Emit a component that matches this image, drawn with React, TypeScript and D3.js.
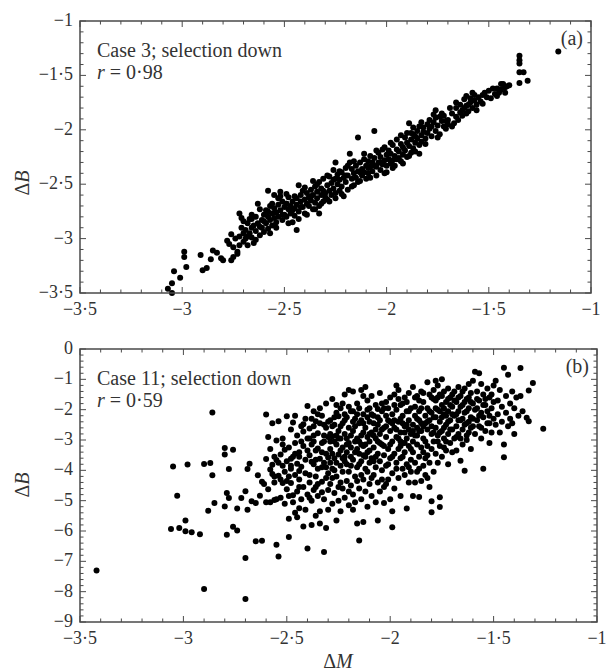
import React from 'react';
import * as d3 from 'd3';

// shared x axis (ΔM) and the two y axes (ΔB)
const DM_TICKS = [-3.5, -3, -2.5, -2, -1.5, -1];
const CASE3_B_TICKS = [-3.5, -3, -2.5, -2, -1.5, -1];
const CASE11_B_TICKS = [-9, -8, -7, -6, -5, -4, -3, -2, -1, 0];

// Case 3; selection down  (ΔM, ΔB)
const case3Points: [number, number][] = [
  [-3.07,-3.46],[-3.05,-3.41],[-3.05,-3.5],[-3.04,-3.30],[-3.01,-3.36],[-2.99,-3.12],[-2.99,-3.17],[-2.98,-3.26],
  [-2.91,-3.15],[-2.90,-3.29],[-2.88,-3.27],[-2.86,-3.19],[-2.85,-3.11],[-2.83,-3.13],[-2.80,-3.20],[-2.81,-3.18],
  [-2.78,-3.02],[-2.76,-3.20],[-2.75,-3.17],[-2.76,-2.96],[-2.77,-3.05],[-2.75,-3.08],[-2.74,-3.00],[-2.73,-3.12],
  [-2.72,-2.98],[-2.72,-3.06],[-2.71,-2.90],[-2.71,-2.81],[-2.70,-3.03],[-2.70,-2.95],[-2.73,-3.14],[-2.72,-2.77],
  [-2.69,-2.92],[-2.69,-3.00],[-2.68,-2.86],[-2.68,-3.06],[-2.67,-2.95],[-2.67,-2.82],[-2.66,-2.90],[-2.66,-2.99],
  [-2.65,-2.88],[-2.65,-3.04],[-2.64,-2.93],[-2.64,-2.80],[-2.63,-2.68],[-2.63,-2.86],[-2.62,-2.73],[-2.62,-2.97],
  [-2.61,-2.90],[-2.61,-2.83],[-2.60,-2.78],[-2.60,-2.94],[-2.66,-2.82],[-2.70,-2.84],
  [-2.59,-2.86],[-2.59,-2.74],[-2.58,-2.80],[-2.58,-2.91],[-2.57,-2.83],[-2.57,-2.70],[-2.56,-2.77],[-2.56,-2.88],
  [-2.55,-2.81],[-2.55,-2.72],[-2.54,-2.85],[-2.54,-2.76],[-2.53,-2.69],[-2.53,-2.80],[-2.52,-2.57],[-2.52,-2.74],
  [-2.51,-2.83],[-2.51,-2.66],[-2.50,-2.78],[-2.50,-2.71],[-2.58,-2.56],[-2.55,-2.60],[-2.52,-2.61],
  [-2.49,-2.68],[-2.49,-2.80],[-2.48,-2.73],[-2.48,-2.62],[-2.47,-2.77],[-2.47,-2.70],[-2.46,-2.66],[-2.46,-2.85],
  [-2.45,-2.72],[-2.45,-2.79],[-2.44,-2.63],[-2.44,-2.69],[-2.43,-2.51],[-2.43,-2.75],[-2.42,-2.66],[-2.42,-2.60],
  [-2.41,-2.71],[-2.41,-2.56],[-2.40,-2.64],[-2.40,-2.77],[-2.44,-2.92],[-2.39,-2.68],[-2.49,-2.68],
  [-2.39,-2.58],[-2.38,-2.62],[-2.38,-2.70],[-2.37,-2.55],[-2.37,-2.65],[-2.36,-2.60],[-2.36,-2.73],[-2.35,-2.52],
  [-2.35,-2.67],[-2.34,-2.57],[-2.34,-2.63],[-2.33,-2.48],[-2.33,-2.70],[-2.32,-2.60],[-2.32,-2.54],[-2.31,-2.66],
  [-2.31,-2.45],[-2.30,-2.58],[-2.30,-2.62],[-2.36,-2.47],[-2.33,-2.77],
  [-2.29,-2.51],[-2.29,-2.64],[-2.28,-2.43],[-2.28,-2.56],[-2.27,-2.60],[-2.27,-2.49],[-2.26,-2.54],[-2.26,-2.37],
  [-2.25,-2.58],[-2.25,-2.45],[-2.24,-2.50],[-2.24,-2.41],[-2.23,-2.56],[-2.23,-2.46],[-2.22,-2.52],[-2.22,-2.39],
  [-2.21,-2.44],[-2.21,-2.61],[-2.20,-2.48],[-2.20,-2.35],[-2.25,-2.30],[-2.18,-2.22],[-2.19,-2.42],
  [-2.17,-2.45],[-2.17,-2.36],[-2.16,-2.40],[-2.16,-2.51],[-2.15,-2.33],[-2.15,-2.44],[-2.14,-2.38],[-2.14,-2.07],
  [-2.13,-2.47],[-2.13,-2.30],[-2.12,-2.36],[-2.12,-2.42],[-2.11,-2.27],[-2.11,-2.39],[-2.10,-2.33],[-2.10,-2.45],
  [-2.18,-2.30],[-2.19,-2.55],
  [-2.09,-2.29],[-2.09,-2.40],[-2.08,-2.34],[-2.08,-2.24],[-2.07,-2.38],[-2.07,-2.30],[-2.06,-2.01],[-2.06,-2.26],
  [-2.05,-2.34],[-2.05,-2.42],[-2.04,-2.21],[-2.04,-2.30],[-2.03,-2.37],[-2.03,-2.25],[-2.02,-2.32],[-2.02,-2.18],
  [-2.01,-2.28],[-2.01,-2.40],[-2.00,-2.23],[-2.00,-2.33],
  [-1.99,-2.27],[-1.99,-2.19],[-1.98,-2.31],[-1.98,-2.22],[-1.97,-2.14],[-1.97,-2.28],[-1.96,-2.24],[-1.96,-2.33],
  [-1.95,-2.18],[-1.95,-2.09],[-1.94,-2.26],[-1.94,-2.20],[-1.93,-2.13],[-1.93,-2.29],[-1.92,-2.16],[-1.92,-2.23],
  [-1.91,-2.07],[-1.91,-2.19],[-1.90,-2.12],[-1.90,-2.25],[-1.89,-1.94],[-1.88,-2.03],
  [-1.89,-2.15],[-1.88,-2.21],[-1.88,-2.09],[-1.87,-2.17],[-1.87,-2.04],[-1.86,-2.12],[-1.86,-2.20],[-1.85,-2.01],
  [-1.85,-2.08],[-1.84,-2.14],[-1.84,-1.97],[-1.83,-2.05],[-1.83,-2.11],[-1.82,-1.98],[-1.82,-2.02],[-1.81,-2.08],
  [-1.80,-1.95],[-1.80,-2.03],
  [-1.79,-1.99],[-1.78,-2.06],[-1.77,-1.86],[-1.77,-1.93],[-1.76,-2.01],[-1.76,-1.89],[-1.75,-1.96],[-1.74,-1.88],
  [-1.74,-2.04],[-1.73,-1.92],[-1.72,-1.97],[-1.72,-1.87],[-1.71,-1.99],[-1.70,-1.91],[-1.70,-1.95],
  [-1.68,-1.85],[-1.67,-1.94],[-1.66,-1.80],[-1.66,-1.88],[-1.65,-1.91],[-1.64,-1.77],[-1.64,-1.84],[-1.63,-1.87],
  [-1.62,-1.72],[-1.62,-1.80],[-1.61,-1.85],[-1.61,-1.69],[-1.60,-1.77],
  [-1.60,-1.83],[-1.59,-1.75],[-1.59,-1.71],[-1.58,-1.80],[-1.57,-1.73],[-1.57,-1.68],[-1.56,-1.77],[-1.55,-1.70],
  [-1.54,-1.74],[-1.53,-1.68],[-1.52,-1.66],
  [-1.50,-1.64],[-1.49,-1.71],[-1.47,-1.67],[-1.46,-1.62],[-1.45,-1.66],[-1.44,-1.63],[-1.43,-1.58],[-1.42,-1.61],
  [-1.42,-1.66],[-1.41,-1.60],[-1.40,-1.59],[-1.35,-1.32],[-1.35,-1.36],[-1.35,-1.39],[-1.35,-1.47],[-1.33,-1.47],
  [-1.35,-1.57],[-1.31,-1.55],[-1.16,-1.28],
  // second pass through the dense part of the band
  [-2.68,-2.98],[-2.66,-2.78],[-2.64,-3.01],[-2.62,-2.89],[-2.60,-2.84],[-2.58,-2.75],[-2.57,-2.95],[-2.56,-2.68],
  [-2.54,-2.90],[-2.53,-2.63],[-2.51,-2.78],[-2.49,-2.59],[-2.48,-2.86],[-2.46,-2.74],[-2.45,-2.61],[-2.43,-2.82],
  [-2.42,-2.71],[-2.40,-2.53],[-2.39,-2.78],[-2.37,-2.61],[-2.35,-2.73],[-2.34,-2.50],[-2.32,-2.68],[-2.31,-2.56],
  [-2.29,-2.42],[-2.28,-2.66],[-2.26,-2.46],[-2.25,-2.63],[-2.23,-2.38],[-2.22,-2.59],[-2.20,-2.42],[-2.19,-2.33],
  [-2.17,-2.52],[-2.16,-2.29],[-2.14,-2.48],[-2.13,-2.39],[-2.11,-2.22],[-2.09,-2.35],[-2.08,-2.44],[-2.06,-2.33],
  [-2.05,-2.19],[-2.03,-2.30],[-2.01,-2.16],[-2.00,-2.39],[-1.98,-2.12],[-1.97,-2.35],[-1.95,-2.27],[-1.93,-2.05],
  [-1.92,-2.31],[-1.90,-2.03],[-1.89,-2.24],[-1.87,-1.98],[-1.86,-2.06],[-1.84,-2.22],[-1.83,-1.93],[-1.81,-2.13],
  [-1.79,-1.91],[-1.78,-1.97],[-1.76,-1.82],[-1.75,-2.07],[-1.73,-1.85],[-1.71,-1.92],[-1.69,-1.80],[-1.68,-1.97],
  [-1.66,-1.75],[-1.63,-1.82],[-1.61,-1.78],[-1.58,-1.66],[-1.56,-1.82],[-1.53,-1.76],[-1.51,-1.70],[-1.48,-1.62],
  [-1.46,-1.69],[-1.44,-1.58],
];

// Case 11; selection down  (ΔM, ΔB)
const case11Points: [number, number][] = [
  // sparse left side
  [-3.42,-7.30],[-2.90,-7.91],[-2.70,-8.24],[-2.70,-6.89],[-2.54,-6.84],[-2.55,-6.45],[-2.65,-6.34],[-2.62,-6.32],
  [-2.40,-6.58],[-2.32,-6.69],[-2.15,-6.31],[-1.99,-5.88],[-2.06,-5.65],[-2.13,-5.70],
  [-3.06,-5.93],[-3.02,-5.90],[-2.99,-5.65],[-2.99,-6.01],[-2.96,-6.04],[-2.92,-6.11],[-2.79,-6.12],[-2.76,-5.86],
  [-2.74,-5.98],[-3.03,-4.84],[-3.05,-3.87],[-2.98,-3.81],[-2.90,-3.79],[-2.87,-3.76],[-2.86,-4.16],[-2.86,-2.09],
  [-2.80,-3.26],[-2.80,-3.48],[-2.76,-3.32],[-2.78,-3.96],[-2.88,-5.33],[-2.85,-5.08],[-2.80,-5.19],[-2.79,-4.75],
  [-2.78,-4.91],[-2.74,-5.26],[-2.72,-4.91],[-2.70,-4.69],[-2.69,-5.30],[-2.69,-3.96],[-2.68,-3.78],[-2.67,-5.02],
  [-2.65,-5.08],[-2.64,-4.16],[-2.63,-4.84],[-2.60,-3.63],[-2.60,-2.16],[-2.60,-5.05],[-2.62,-4.38],[-2.61,-4.45],
  // -2.6 .. -2.5
  [-2.59,-2.90],[-2.58,-5.05],[-2.58,-3.97],[-2.57,-4.12],[-2.57,-2.45],[-2.56,-3.55],[-2.56,-4.40],[-2.55,-3.02],
  [-2.55,-3.66],[-2.55,-4.95],[-2.54,-2.38],[-2.54,-4.18],[-2.53,-3.48],[-2.53,-4.90],[-2.52,-3.85],[-2.52,-4.42],
  [-2.52,-2.95],[-2.51,-4.05],[-2.51,-5.10],[-2.51,-3.32],[-2.50,-4.62],[-2.50,-2.22],[-2.50,-3.70],[-2.59,-4.62],
  [-2.57,-3.82],[-2.56,-4.98],[-2.53,-4.30],[-2.49,-6.20],
  [-2.58,-3.30],[-2.56,-4.20],[-2.54,-3.75],[-2.52,-3.15],[-2.50,-4.35],
  // -2.5 .. -2.4
  [-2.49,-3.25],[-2.49,-4.85],[-2.49,-5.60],[-2.48,-2.65],[-2.48,-3.95],[-2.48,-4.42],[-2.47,-3.55],[-2.47,-2.42],
  [-2.47,-5.05],[-2.46,-4.15],[-2.46,-3.10],[-2.46,-5.40],[-2.45,-3.78],[-2.45,-4.70],[-2.45,-2.85],[-2.44,-4.30],
  [-2.44,-3.40],[-2.44,-5.25],[-2.43,-2.55],[-2.43,-3.88],[-2.43,-4.95],[-2.42,-3.20],[-2.42,-4.55],[-2.42,-5.85],
  [-2.41,-2.30],[-2.41,-3.65],[-2.41,-4.10],[-2.40,-2.95],[-2.40,-4.80],[-2.40,-1.88],[-2.47,-4.82],[-2.45,-5.55],
  [-2.43,-3.05],[-2.42,-2.72],[-2.44,-4.02],[-2.48,-3.62],[-2.41,-5.30],[-2.46,-2.20],[-2.49,-4.20],
  [-2.48,-3.85],[-2.46,-3.45],[-2.44,-4.55],[-2.44,-3.55],[-2.42,-2.48],
  // -2.4 .. -2.3
  [-2.39,-3.50],[-2.39,-2.62],[-2.39,-4.40],[-2.38,-3.15],[-2.38,-5.00],[-2.38,-2.30],[-2.37,-3.80],[-2.37,-4.65],
  [-2.37,-2.05],[-2.36,-3.35],[-2.36,-4.20],[-2.36,-5.50],[-2.35,-2.78],[-2.35,-3.95],[-2.35,-4.85],[-2.34,-2.45],
  [-2.34,-3.62],[-2.34,-5.75],[-2.33,-3.10],[-2.33,-4.38],[-2.33,-2.20],[-2.32,-3.75],[-2.32,-4.95],[-2.31,-2.60],
  [-2.31,-3.45],[-2.31,-5.90],[-2.30,-4.10],[-2.30,-2.90],[-2.30,-5.30],[-2.39,-4.90],[-2.38,-3.72],[-2.37,-2.55],
  [-2.36,-4.55],[-2.35,-3.28],[-2.34,-1.95],[-2.33,-4.72],[-2.32,-2.85],[-2.31,-4.25],[-2.30,-3.58],[-2.36,-2.38],
  [-2.34,-5.35],[-2.32,-3.05],[-2.38,-5.80],[-2.31,-1.80],[-2.35,-4.45],[-2.33,-3.90],[-2.37,-3.05],[-2.30,-4.65],
  [-2.39,-2.95],[-2.40,-3.35],[-2.39,-4.15],[-2.37,-2.85],[-2.36,-3.65],[-2.35,-2.15],[-2.33,-3.40],[-2.32,-2.50],
  [-2.31,-3.90],[-2.30,-2.40],
  // -2.3 .. -2.2
  [-2.29,-2.35],[-2.29,-3.30],[-2.29,-4.45],[-2.28,-1.65],[-2.28,-2.88],[-2.28,-3.95],[-2.28,-5.10],[-2.27,-2.50],
  [-2.27,-3.60],[-2.27,-4.75],[-2.26,-2.10],[-2.26,-3.15],[-2.26,-4.20],[-2.26,-5.65],[-2.25,-2.70],[-2.25,-3.48],
  [-2.25,-4.55],[-2.24,-1.95],[-2.24,-2.95],[-2.24,-3.85],[-2.24,-5.35],[-2.23,-2.45],[-2.23,-3.25],[-2.23,-4.05],
  [-2.22,-1.50],[-2.22,-2.80],[-2.22,-3.70],[-2.22,-4.90],[-2.21,-2.25],[-2.21,-3.40],[-2.21,-4.35],[-2.20,-1.35],
  [-2.20,-2.60],[-2.20,-3.10],[-2.20,-5.15],[-2.29,-2.80],[-2.27,-4.00],[-2.25,-2.22],[-2.23,-4.60],[-2.21,-2.95],
  [-2.29,-3.75],[-2.26,-2.85],[-2.24,-4.40],[-2.22,-3.55],[-2.20,-4.05],[-2.28,-2.55],[-2.25,-5.00],[-2.23,-1.80],
  [-2.21,-3.80],[-2.27,-3.05],[-2.26,-1.85],[-2.24,-3.35],[-2.22,-2.15],[-2.20,-4.70],[-2.28,-4.25],
  [-2.29,-3.05],[-2.28,-3.45],[-2.27,-2.25],[-2.26,-3.75],[-2.25,-2.95],[-2.24,-2.55],[-2.23,-3.60],[-2.22,-2.35],
  [-2.21,-3.15],[-2.20,-1.90],
  // -2.2 .. -2.1
  [-2.19,-2.05],[-2.19,-3.25],[-2.19,-4.50],[-2.18,-1.40],[-2.18,-2.70],[-2.18,-3.65],[-2.18,-5.30],[-2.17,-2.30],
  [-2.17,-3.05],[-2.17,-4.20],[-2.16,-1.80],[-2.16,-2.95],[-2.16,-3.90],[-2.16,-5.75],[-2.15,-2.45],[-2.15,-3.45],
  [-2.15,-4.60],[-2.14,-1.35],[-2.14,-2.85],[-2.14,-3.70],[-2.14,-4.95],[-2.13,-2.15],[-2.13,-3.20],[-2.13,-4.30],
  [-2.12,-1.25],[-2.12,-2.60],[-2.12,-3.55],[-2.11,-1.70],[-2.11,-2.90],[-2.11,-4.05],[-2.11,-5.20],[-2.10,-2.40],
  [-2.10,-3.35],[-2.10,-4.45],[-2.19,-3.85],[-2.17,-2.55],[-2.16,-4.35],[-2.15,-1.95],[-2.14,-3.15],[-2.13,-2.75],
  [-2.12,-4.70],[-2.11,-3.40],[-2.10,-1.95],[-2.18,-4.80],[-2.16,-3.30],[-2.14,-2.35],[-2.12,-3.95],[-2.10,-2.80],
  [-2.19,-2.85],[-2.17,-5.05],[-2.15,-3.80],[-2.13,-1.55],[-2.11,-2.25],[-2.18,-2.05],[-2.13,-3.50],[-2.10,-3.75],
  [-2.19,-3.55],[-2.18,-2.40],[-2.17,-3.40],[-2.16,-2.15],[-2.15,-3.05],[-2.14,-4.15],[-2.13,-2.45],[-2.12,-3.15],
  [-2.11,-2.00],[-2.10,-3.05],
  // -2.1 .. -2.0
  [-2.09,-1.55],[-2.09,-2.75],[-2.09,-3.60],[-2.09,-4.85],[-2.08,-2.20],[-2.08,-3.25],[-2.08,-4.15],[-2.07,-1.85],
  [-2.07,-2.95],[-2.07,-3.90],[-2.07,-5.05],[-2.06,-2.50],[-2.06,-3.45],[-2.06,-4.40],[-2.05,-1.45],[-2.05,-2.80],
  [-2.05,-3.70],[-2.05,-4.70],[-2.04,-2.05],[-2.04,-3.15],[-2.04,-4.00],[-2.03,-2.60],[-2.03,-3.50],[-2.03,-4.55],
  [-2.03,-5.08],[-2.02,-1.75],[-2.02,-2.90],[-2.02,-3.85],[-2.01,-2.35],[-2.01,-3.30],[-2.01,-4.30],[-2.00,-1.60],
  [-2.00,-2.70],[-2.00,-3.60],[-2.00,-4.95],[-2.08,-2.45],[-2.06,-3.05],[-2.04,-4.30],[-2.02,-2.20],[-2.00,-3.15],
  [-2.09,-4.25],[-2.07,-3.55],[-2.05,-2.35],[-2.03,-1.95],[-2.01,-3.80],[-1.99,-5.35],[-2.08,-2.85],[-2.04,-2.65],
  [-2.02,-4.45],[-2.06,-1.98],
  [-2.09,-2.15],[-2.08,-3.70],[-2.07,-2.65],[-2.06,-2.25],[-2.05,-3.10],[-2.04,-1.80],[-2.03,-3.20],[-2.02,-2.55],
  [-2.01,-1.95],[-2.00,-2.40],
  // -2.0 .. -1.9
  [-1.99,-2.15],[-1.99,-3.05],[-1.99,-4.10],[-1.98,-1.50],[-1.98,-2.60],[-1.98,-3.45],[-1.98,-4.60],[-1.97,-2.00],
  [-1.97,-2.90],[-1.97,-3.75],[-1.96,-1.35],[-1.96,-2.40],[-1.96,-3.30],[-1.96,-4.25],[-1.95,-1.85],[-1.95,-2.75],
  [-1.95,-3.60],[-1.95,-4.85],[-1.94,-2.20],[-1.94,-3.10],[-1.94,-3.95],[-1.93,-1.60],[-1.93,-2.55],[-1.93,-3.40],
  [-1.92,-2.05],[-1.92,-2.95],[-1.92,-3.80],[-1.92,-5.26],[-1.91,-1.45],[-1.91,-2.35],[-1.91,-3.20],[-1.91,-4.40],
  [-1.90,-1.95],[-1.90,-2.80],[-1.90,-3.65],[-1.99,-2.45],[-1.97,-3.95],[-1.95,-2.30],[-1.93,-4.15],[-1.91,-2.65],
  [-1.98,-1.85],[-1.96,-2.95],[-1.94,-3.55],[-1.92,-1.75],[-1.90,-4.05],[-1.97,-1.20],[-1.95,-3.20],[-1.93,-2.75],
  [-1.91,-3.90],[-1.94,-2.45],
  [-1.99,-3.55],[-1.98,-2.35],[-1.97,-2.65],[-1.96,-1.65],[-1.95,-3.05],[-1.94,-1.80],[-1.93,-3.10],[-1.92,-2.50],
  [-1.91,-2.05],[-1.90,-3.30],
  // -1.9 .. -1.8
  [-1.89,-1.25],[-1.89,-2.50],[-1.89,-3.40],[-1.89,-4.85],[-1.88,-1.90],[-1.88,-2.85],[-1.88,-3.75],[-1.87,-1.55],
  [-1.87,-2.30],[-1.87,-3.15],[-1.87,-4.05],[-1.86,-2.05],[-1.86,-2.70],[-1.86,-3.55],[-1.86,-4.88],[-1.85,-1.40],
  [-1.85,-2.45],[-1.85,-3.25],[-1.85,-4.35],[-1.84,-1.75],[-1.84,-2.95],[-1.84,-3.85],[-1.83,-2.20],[-1.83,-3.05],
  [-1.83,-4.15],[-1.82,-1.10],[-1.82,-1.95],[-1.82,-2.65],[-1.82,-3.50],[-1.81,-2.35],[-1.81,-3.75],[-1.81,-4.55],
  [-1.80,-5.38],[-1.80,-5.02],[-1.80,-1.60],[-1.80,-2.80],[-1.80,-3.30],[-1.88,-2.20],[-1.86,-1.70],[-1.84,-2.55],
  [-1.82,-4.25],[-1.89,-3.05],[-1.87,-2.60],[-1.85,-1.95],[-1.83,-3.60],[-1.81,-1.50],[-1.88,-4.40],[-1.84,-3.40],
  [-1.82,-2.40],[-1.86,-3.95],[-1.80,-2.10],
  [-1.89,-2.70],[-1.88,-1.60],[-1.87,-2.85],[-1.86,-2.35],[-1.85,-2.70],[-1.84,-1.45],[-1.83,-2.45],[-1.82,-3.20],
  [-1.81,-2.05],[-1.80,-2.55],
  // -1.8 .. -1.7
  [-1.79,-1.35],[-1.79,-2.25],[-1.79,-3.05],[-1.79,-4.05],[-1.78,-1.70],[-1.78,-2.60],[-1.78,-3.45],[-1.77,-1.20],
  [-1.77,-2.00],[-1.77,-2.85],[-1.77,-3.75],[-1.76,-1.50],[-1.76,-2.40],[-1.76,-3.20],[-1.76,-5.21],[-1.76,-4.89],
  [-1.75,-1.00],[-1.75,-1.85],[-1.75,-2.70],[-1.75,-3.55],[-1.74,-1.40],[-1.74,-2.15],[-1.74,-2.95],[-1.73,-1.75],
  [-1.73,-2.50],[-1.73,-3.35],[-1.72,-1.30],[-1.72,-2.05],[-1.72,-2.80],[-1.72,-3.80],[-1.71,-1.60],[-1.71,-2.35],
  [-1.71,-3.10],[-1.70,-1.90],[-1.70,-2.65],[-1.70,-3.40],[-1.78,-1.95],[-1.76,-2.75],[-1.74,-1.95],[-1.72,-2.40],
  [-1.70,-1.50],[-1.79,-2.75],[-1.77,-1.60],[-1.75,-2.25],[-1.73,-3.05],[-1.71,-1.85],[-1.78,-1.05],[-1.74,-2.60],
  [-1.79,-1.65],[-1.78,-2.25],[-1.77,-3.05],[-1.76,-2.05],[-1.75,-1.55],[-1.74,-3.25],[-1.73,-2.20],[-1.72,-1.65],
  [-1.71,-2.65],[-1.70,-2.15],
  // -1.7 .. -1.6
  [-1.69,-1.40],[-1.69,-2.20],[-1.69,-2.95],[-1.68,-1.75],[-1.68,-2.55],[-1.68,-3.35],[-1.67,-1.25],[-1.67,-2.05],
  [-1.67,-2.80],[-1.66,-1.55],[-1.66,-2.35],[-1.66,-3.68],[-1.65,-1.85],[-1.65,-2.65],[-1.65,-3.15],[-1.64,-1.30],
  [-1.64,-2.10],[-1.64,-4.01],[-1.63,-1.65],[-1.63,-2.45],[-1.63,-3.00],[-1.62,-1.15],[-1.62,-1.95],[-1.62,-2.75],
  [-1.61,-1.45],[-1.61,-2.25],[-1.61,-3.30],[-1.60,-1.80],[-1.60,-2.55],[-1.68,-2.15],[-1.66,-2.95],[-1.64,-1.75],
  [-1.62,-2.40],[-1.60,-1.05],[-1.67,-1.60],[-1.63,-2.85],[-1.65,-2.30],[-1.61,-1.75],
  [-1.69,-1.70],[-1.68,-2.90],[-1.67,-2.35],[-1.66,-1.90],[-1.65,-1.40],[-1.64,-2.50],[-1.63,-2.05],[-1.62,-1.60],
  [-1.61,-2.60],[-1.60,-2.30],
  // -1.6 .. -1.5
  [-1.59,-0.75],[-1.59,-2.00],[-1.59,-2.80],[-1.58,-1.40],[-1.58,-2.35],[-1.57,-0.80],[-1.57,-1.70],[-1.57,-2.55],
  [-1.56,-1.15],[-1.56,-2.10],[-1.56,-2.95],[-1.55,-1.50],[-1.55,-2.25],[-1.55,-3.95],[-1.54,-1.85],[-1.54,-2.70],
  [-1.53,-1.30],[-1.53,-2.05],[-1.52,-1.60],[-1.52,-2.45],[-1.52,-3.10],[-1.51,-1.95],[-1.51,-2.75],[-1.50,-1.20],
  [-1.50,-2.30],[-1.58,-1.95],[-1.56,-2.60],[-1.54,-1.65],[-1.52,-2.20],[-1.50,-1.75],
  [-1.58,-1.65],[-1.57,-2.20],[-1.55,-1.85],[-1.53,-2.45],[-1.51,-1.50],
  // -1.5 .. -1.25
  [-1.49,-1.05],[-1.49,-2.50],[-1.48,-1.70],[-1.48,-2.15],[-1.47,-1.35],[-1.47,-2.75],[-1.46,-1.90],[-1.46,-2.40],
  [-1.45,-0.62],[-1.45,-3.15],[-1.45,-3.57],[-1.44,-1.55],[-1.44,-2.10],[-1.43,-0.85],[-1.43,-2.55],[-1.42,-1.80],
  [-1.42,-2.30],[-1.41,-1.40],[-1.41,-2.45],[-1.40,-1.95],[-1.40,-2.80],[-1.39,-1.60],[-1.38,-2.20],[-1.37,-0.63],
  [-1.37,-1.55],[-1.36,-2.05],[-1.34,-2.27],[-1.33,-1.37],[-1.33,-2.38],[-1.31,-1.12],[-1.26,-2.63],
];

const FONT = 'Liberation Serif';
const TEXT = '#333';
const AXIS = '#4a4a4a';

const fmt = (v: number) => (v < 0 ? '\u2212' : '') + String(Math.abs(v)).replace('.', '\u00b7');

type Box = { l: number; r: number; t: number; b: number };

function Panel({ points, yTicks, yMinor, box, caseText, rText, tag, yLabelY }: {
  points: [number, number][]; yTicks: number[]; yMinor: number; box: Box;
  caseText: string; rText: string; tag: string; yLabelY: number;
}) {
  const x = d3.scaleLinear().domain(d3.extent(DM_TICKS) as [number, number]).range([box.l, box.r]);
  const y = d3.scaleLinear().domain(d3.extent(yTicks) as [number, number]).range([box.b, box.t]);
  const xMinor = d3.range(-3.5, -0.999, 0.1);
  const [y0, y1] = y.domain();
  const yMin = d3.range(y0, y1 + 1e-6, yMinor);
  const MAJ = 6, MIN = 3.5;
  return (
    <g>
      {points.map(([a, b], i) => (
        <circle key={i} cx={x(a)} cy={y(b)} r={3} fill="#000" />
      ))}
      <g stroke={AXIS} strokeWidth={1}>
        {xMinor.map((v, i) => {
          const major = DM_TICKS.some(t => Math.abs(t - v) < 1e-6);
          const len = major ? MAJ : MIN;
          return (
            <g key={'x' + i}>
              <line x1={x(v)} x2={x(v)} y1={box.b} y2={box.b - len} />
              <line x1={x(v)} x2={x(v)} y1={box.t} y2={box.t + len} />
            </g>
          );
        })}
        {yMin.map((v, i) => {
          const major = yTicks.some(t => Math.abs(t - v) < 1e-6);
          const len = major ? MAJ : MIN;
          return (
            <g key={'y' + i}>
              <line x1={box.l} x2={box.l + len} y1={y(v)} y2={y(v)} />
              <line x1={box.r} x2={box.r - len} y1={y(v)} y2={y(v)} />
            </g>
          );
        })}
      </g>
      <rect x={box.l} y={box.t} width={box.r - box.l} height={box.b - box.t}
        fill="none" stroke={AXIS} strokeWidth={1.5} />
      <g style={{ fontFamily: FONT }} fontSize={18} fill={TEXT}>
        {DM_TICKS.map(v => (
          <text key={'xl' + v} x={x(v)} y={box.b + 22} textAnchor="middle">{fmt(v)}</text>
        ))}
        {yTicks.map(v => (
          <text key={'yl' + v} x={box.l - 7} y={y(v) + 5} textAnchor="end">{fmt(v)}</text>
        ))}
      </g>
      <g style={{ fontFamily: FONT }} fontSize={20} fill={TEXT}>
        <text x={box.l + 17} y={box.t + 36}>{caseText}</text>
        <text x={box.l + 17} y={box.t + 58}>
          <tspan fontStyle="italic">r</tspan> = {rText}
        </text>
        <text x={box.r - 8} y={box.t + 24} textAnchor="end">{tag}</text>
        <text transform={`translate(29,${yLabelY}) rotate(-90)`} textAnchor="middle">
          Δ<tspan fontStyle="italic">B</tspan>
        </text>
      </g>
    </g>
  );
}

export default function App() {
  return (
    <svg width={606} height={671} style={{ position: 'absolute', left: 0, top: 0, background: '#fff' }}>
      <Panel points={case3Points} yTicks={CASE3_B_TICKS} yMinor={0.1}
        box={{ l: 80, r: 591, t: 21, b: 293 }} caseText="Case 3; selection down" rText="0·98" tag="(a)" yLabelY={183} />
      <Panel points={case11Points} yTicks={CASE11_B_TICKS} yMinor={0.2}
        box={{ l: 80, r: 597, t: 349, b: 622 }} caseText="Case 11; selection down" rText="0·59" tag="(b)" yLabelY={485} />
      <text x={338} y={668} textAnchor="middle" style={{ fontFamily: FONT }} fontSize={20} fill={TEXT}>
        Δ<tspan fontStyle="italic">M</tspan>
      </text>
    </svg>
  );
}
